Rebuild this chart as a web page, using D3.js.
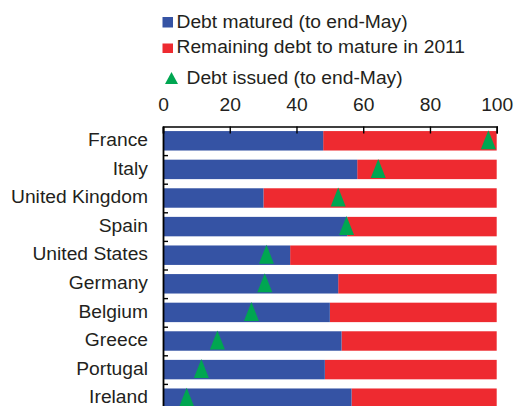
<!DOCTYPE html>
<html>
<head>
<meta charset="utf-8">
<script src="https://cdn.jsdelivr.net/npm/d3@7"></script>
<style>
  body { margin: 0; background: #fff; }
  svg text { font-family: Arial, "Liberation Sans", Helvetica, sans-serif; fill: #231f20; }
</style>
</head>
<body>
<div id="chart"></div>
<script>
(function () {
    'use strict';

    // values in percent of debt due in 2011
    var countries = ['France', 'Italy', 'United Kingdom', 'Spain', 'United States',
        'Germany', 'Belgium', 'Greece', 'Portugal', 'Ireland'];
    var matured = [48, 58.2, 30.1, 55.2, 38.1, 52.5, 50, 53.5, 48.5, 56.5];
    var issued = [97.5, 64.5, 52.5, 55, 31, 30.5, 26.5, 16.3, 11.5, 7.1];
    var xTicks = [0, 20, 40, 60, 80, 100];
    var legendLabels = ['Debt matured (to end-May)', 'Remaining debt to mature in 2011',
        'Debt issued (to end-May)'];

    var blue = '#3553a4';
    var red = '#ee2a30';
    var green = '#00a651';
    var fontSize = 17.5;
    var stretch = 1.1;

    var width = 514, height = 406;
    var top = 126.5, left = 163, right = 496.7;
    var step = 28.6;

    var svg = d3.select('#chart').append('svg')
        .attr('width', width)
        .attr('height', height);

    var x = d3.scaleLinear().domain([0, 100]).range([left, right]);
    var y = d3.scaleBand()
        .domain(countries)
        .range([top, top + step * countries.length])
        .paddingInner(0.32)
        .paddingOuter(0.16);
    var yTicks = d3.scaleLinear().domain([0, countries.length])
        .range([top, top + step * countries.length]);

    var rows = countries.map(function (c, i) {
        return { name: c, matured: matured[i], issued: issued[i] };
    });

    // remaining (red) first, then matured (blue) on top
    svg.append('g').selectAll('rect')
        .data(rows)
        .join('rect')
        .attr('x', function (d) { return x(d.matured); })
        .attr('y', function (d) { return y(d.name); })
        .attr('width', function (d) { return x(100) - x(d.matured); })
        .attr('height', y.bandwidth())
        .style('fill', red);

    svg.append('g').selectAll('rect')
        .data(rows)
        .join('rect')
        .attr('x', x(0))
        .attr('y', function (d) { return y(d.name); })
        .attr('width', function (d) { return x(d.matured) - x(0); })
        .attr('height', y.bandwidth())
        .style('fill', blue);

    function triangle(w, h) {
        return 'M0,' + (-h / 2) + 'L' + (w / 2) + ',' + (h / 2) + 'L' + (-w / 2) + ',' + (h / 2) + 'Z';
    }

    svg.append('g').selectAll('path')
        .data(rows)
        .join('path')
        .attr('transform', function (d) {
            return 'translate(' + x(d.issued) + ',' + (y(d.name) + y.bandwidth() / 2 - 1) + ')';
        })
        .attr('d', triangle(15, 19))
        .style('fill', green);

    // top axis
    var xAxis = svg.append('g')
        .attr('transform', 'translate(0,' + top + ')')
        .call(d3.axisTop(x).tickValues(xTicks).tickSize(-7).tickSizeOuter(-7).tickPadding(16));
    xAxis.select('.domain').attr('stroke', '#000').attr('stroke-width', 1.6);
    xAxis.selectAll('.tick line').attr('stroke', '#000').attr('stroke-width', 1.4);
    xAxis.selectAll('.tick text')
        .attr('font-size', fontSize)
        .attr('font-family', null)
        .attr('fill', null);

    // left axis with ticks between categories
    var yAxis = svg.append('g')
        .attr('transform', 'translate(' + left + ',0)')
        .call(d3.axisRight(yTicks).tickValues(d3.range(1, countries.length + 1))
            .tickSize(5).tickSizeOuter(0).tickFormat(''));
    yAxis.select('.domain').attr('stroke', '#000').attr('stroke-width', 1.8);
    yAxis.selectAll('.tick line').attr('stroke', '#000').attr('stroke-width', 1.4);

    svg.append('g').selectAll('text')
        .data(rows)
        .join('text')
        .attr('x', 148)
        .attr('y', function (d) { return y(d.name) + y.bandwidth() / 2; })
        .attr('dy', '0.3em')
        .attr('text-anchor', 'end')
        .attr('font-size', fontSize)
        .text(function (d) { return d.name; });

    // legend
    var legend = svg.append('g');
    var baselines = [27.5, 53, 83.5];
    legend.append('rect')
        .attr('x', 162.5).attr('y', baselines[0] - 10.5)
        .attr('width', 10.5).attr('height', 10.5)
        .style('fill', blue);
    legend.append('rect')
        .attr('x', 162.5).attr('y', baselines[1] - 9.5)
        .attr('width', 10.5).attr('height', 9.5)
        .style('fill', red);
    legend.append('path')
        .attr('transform', 'translate(171.5,' + (baselines[2] - 5.5) + ')')
        .attr('d', triangle(13, 12))
        .style('fill', green);
    legend.selectAll('text')
        .data(legendLabels)
        .join('text')
        .attr('x', function (d, i) { return i === 2 ? 186.5 : 176.5; })
        .attr('y', function (d, i) { return baselines[i]; })
        .attr('font-size', fontSize)
        .text(function (d) { return d; });

    // the source type is set a little wide
    svg.selectAll('text').each(function () {
        var len = this.getComputedTextLength();
        if (len > 0) {
            d3.select(this)
                .attr('textLength', len * stretch)
                .attr('lengthAdjust', 'spacingAndGlyphs');
        }
    });
})();
</script>
</body>
</html>
